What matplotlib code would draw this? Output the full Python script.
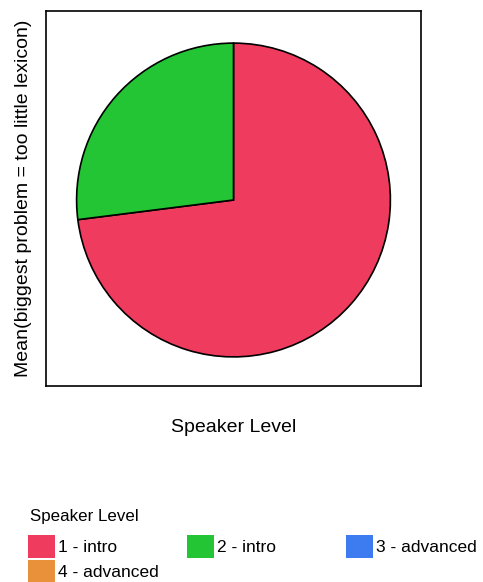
import matplotlib
matplotlib.use("Agg")
import matplotlib.pyplot as plt
from matplotlib.patches import Rectangle

plt.rcParams['font.family'] = ['Liberation Sans', 'DejaVu Sans']

categories = ["1 - intro", "2 - intro", "3 - advanced", "4 - advanced"]
values = [0.73, 0.27, 0.0, 0.0]
colors = ["#EF3B5E", "#23C534", "#3C7CF0", "#E8913A"]
legend_title = "Speaker Level"

W, H = 483, 582
fig = plt.figure(figsize=(W/100, H/100), dpi=100)
ax = fig.add_axes([46/W, 1-386/H, 375/W, 375/H])

draw = [(v, c) for v, c in zip(values, colors) if v > 0]
ax.pie([d[0] for d in draw], colors=[d[1] for d in draw], startangle=90,
       counterclock=False, radius=1.0,
       wedgeprops=dict(edgecolor="black", linewidth=1.2))
ax.set_xlim(-1.195, 1.195)
ax.set_ylim(-1.1854, 1.2046)
ax.set_aspect('auto')
ax.set_frame_on(True)
for s in ax.spines.values():
    s.set_visible(True)
    s.set_linewidth(1.2)
ax.set_xticks([])
ax.set_yticks([])
ax.set_xlabel("Speaker Level", fontsize=14, labelpad=24)
ax.set_ylabel("Mean(biggest problem = too little lexicon)", fontsize=14, labelpad=10)

# legend drawn manually (equal-width columns, row-major)
def fx(px):
    return px / W
def fy(py):
    return 1 - py / H

fig.text(fx(30), fy(516), legend_title, fontsize=12.2, va='center', ha='left')
col_x = [28, 187, 346]
row_top = [535, 560]
sw_w, sw_h = 27, 22.5
for i, (lab, c) in enumerate(zip(categories, colors)):
    r, k = divmod(i, 3)
    x0 = col_x[k]
    y0 = row_top[r]
    fig.add_artist(Rectangle((fx(x0), fy(y0 + sw_h)), sw_w / W, sw_h / H,
                             transform=fig.transFigure, facecolor=c, edgecolor='none'))
    fig.text(fx(x0 + sw_w + 3), fy(y0 + sw_h / 2 + 1), lab, fontsize=12.5,
             va='center', ha='left')

fig.savefig("out.png", dpi=100)
